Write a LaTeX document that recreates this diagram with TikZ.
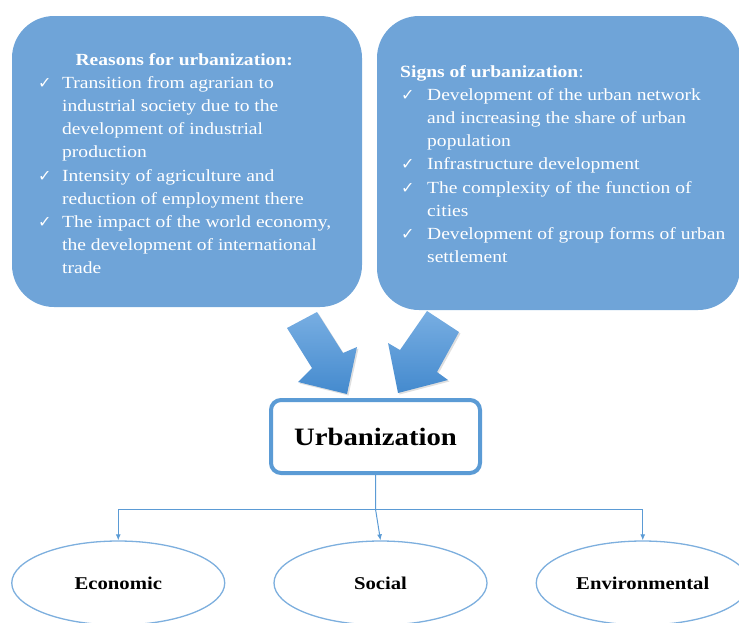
\documentclass[tikz,border=0pt]{standalone}
\usepackage{fontspec}
\setmainfont{Liberation Serif}[FakeStretch=1.15]
\newfontfamily\tickfont{DejaVu Sans}
\usetikzlibrary{arrows.meta,shadows,shapes.geometric}

\definecolor{panelblue}{RGB}{111,164,216}
\definecolor{linkblue}{RGB}{91,155,213}
\definecolor{ringblue}{RGB}{125,175,222}
\definecolor{arrowtop}{RGB}{120,174,226}
\definecolor{arrowbot}{RGB}{68,138,206}

\newcommand\tick{\hspace*{1pt}{\tickfont\fontsize{16}{16}\selectfont ✓}}

\begin{document}
\begin{tikzpicture}
 		[x=1pt,y=-1pt,
 		panel/.style={fill=panelblue, rounded corners=42pt},
 		paneltext/.style={anchor=base west, inner sep=0pt, text=white, font=\fontsize{17}{23.2}\selectfont},
 		bigarrow/.style={top color=arrowtop, bottom color=arrowbot,
 			drop shadow={shadow xshift=1.5pt, shadow yshift=-1.5pt, opacity=.25}},
 		mainbox/.style={draw=linkblue, line width=4pt, fill=white, rounded corners=10pt,
 			minimum width=209pt, minimum height=73pt, font=\fontsize{25}{28}\selectfont\bfseries},
 		aspect/.style={ellipse, draw=ringblue, line width=1.3pt, fill=white,
 			minimum width=213pt, minimum height=84pt, xshift=5pt,
 			font=\fontsize{18}{20}\selectfont\bfseries},
 		level distance=146.5pt, sibling distance=262.25pt,
 		edge from parent/.style={draw=linkblue, line width=1pt, -{Latex[length=6pt,width=5pt]}},
 		edge from parent path={(\tikzparentnode.south) -- ++(0,34) -| (\tikzchildnode.north)}]
 		\useasboundingbox (0,0) rectangle (739,622);

 		% the two panels
 		\fill[panel] (12,16) rectangle (362,307);
 		\fill[panel] (377,16) rectangle (740,310);

 		\node[paneltext] (reasons) at (37,65)
 		{\begin{tabular}[t]{@{}p{25pt}@{}l@{}}
 			\multicolumn{2}{@{}c@{}}{\bfseries Reasons for urbanization:}\\
 			\tick & Transition from agrarian to\\
 			      & industrial society due to the\\
 			      & development of industrial\\
 			      & production\\
 			\tick & Intensity of agriculture and\\
 			      & reduction of employment there\\
 			\tick & The impact of the world economy,\\
 			      & the development of international\\
 			      & trade
 		\end{tabular}};

 		\node[paneltext] (signs) at (400,77)
 		{\begin{tabular}[t]{@{}p{27pt}@{}l@{}}
 			\multicolumn{2}{@{}l@{}}{\textbf{Signs of urbanization}:}\\
 			\tick & Development of the urban network\\
 			      & and increasing the share of urban\\
 			      & population\\
 			\tick & Infrastructure development\\
 			\tick & The complexity of the function of\\
 			      & cities\\
 			\tick & Development of group forms of urban\\
 			      & settlement
 		\end{tabular}};

 		% block arrows into the centre
 		\shade[bigarrow] (287,328) -- (317,312) -- (343,353) -- (357,347)
 			-- (347,394) -- (298,382) -- (312,368) -- cycle;
 		\shade[bigarrow] (427,311) -- (459,332) -- (437,372) -- (448,380)
 			-- (398,393) -- (388,343) -- (400,350) -- cycle;

 		\node[mainbox] (urban) at (375.5,436.5) {Urbanization}
 		child
 		{
 			node[aspect] (econ) {Economic}
 		}
 		child[edge from parent path={(\tikzparentnode.south) -- ++(0,34) -- (\tikzchildnode.north)}]
 		{
 			node[aspect] (social) {Social}
 		}
 		child
 		{
 			node[aspect] (enviro) {Environmental}
 		};
 	\end{tikzpicture}
\end{document}
